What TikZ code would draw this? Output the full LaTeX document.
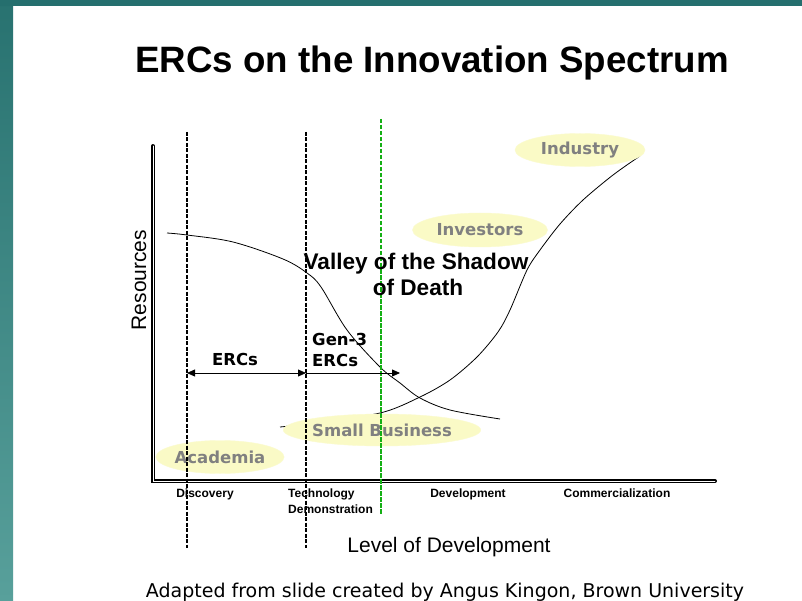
\documentclass[tikz,border=0pt]{standalone}
\usepackage{fontspec}
\setmainfont{Liberation Sans}
\newfontfamily\handfont{DejaVu Sans}
\usetikzlibrary{arrows.meta,shapes.geometric}
\definecolor{bandtop}{RGB}{37,111,110}
\definecolor{stripA}{RGB}{40,114,112}
\definecolor{stripB}{RGB}{88,160,155}
\definecolor{pale}{RGB}{250,250,198}
\definecolor{labelgray}{RGB}{128,128,128}
\definecolor{phasegreen}{RGB}{20,175,20}
\begin{document}
\begin{tikzpicture}[x=1pt,y=-1pt,
  axisline/.style={double=white,double distance=0.9pt,line width=1.5pt,line cap=round},
  phase/.style={dash pattern=on 4pt off 1.5pt,line width=1.1pt},
  actor/.style={ellipse,fill=pale,draw=pale!85!white,inner sep=0pt,
    text=labelgray,font=\handfont\bfseries\fontsize{16.5}{18}\selectfont},
  stagelabel/.style={font=\bfseries\fontsize{12}{13}\selectfont,anchor=base},
  hand/.style={font=\handfont\bfseries\fontsize{16.5}{19}\selectfont,anchor=base},
  span/.style={line width=0.8pt,-{Triangle[length=8pt,width=7pt]}},
  curve/.style={line width=0.8pt}]
\useasboundingbox (0,0) rectangle (802,601);
% slide frame
\fill[white] (0,0) rectangle (802,601);
\shade[top color=stripA,bottom color=stripB] (0,0) rectangle (13,601);
\fill[bandtop] (0,0) rectangle (802,6);

% title
\node[anchor=base,font=\bfseries\fontsize{36.7}{40}\selectfont] (title) at (432,73)
  {ERCs on the Innovation Spectrum};

% axes
\coordinate (ytop) at (153,146);
\coordinate (origin) at (153,481);
\coordinate (xend) at (715,481);
\draw[axisline] (ytop) -- (origin) -- (xend);

% resources falling through the valley
\draw[curve] plot[smooth,tension=0.55] coordinates
  {(167,233) (187,235) (233,242) (283,259) (307,273) (321,287) (347,330) (380,367) (400,383) (420,398) (450,410) (500,419)};
% resources rising towards industry
\draw[curve] plot[smooth,tension=0.5] coordinates
  {(280,427) (306,424) (380,413) (420,397) (450,380) (477,357) (498,332) (510,310) (527,270) (540,250) (560,224) (583,200) (613,175) (640,156)};

% actors
\node[actor,minimum width=130pt,minimum height=33pt] (industry) at (580,150) {Industry};
\node[actor,minimum width=135pt,minimum height=34pt] (investors) at (480,230) {Investors};
\node[actor,minimum width=151pt,minimum height=32pt] (smallbiz) at (382,430) {Small Business};
\node[actor,minimum width=120pt,minimum height=33pt] (academia) at (220,457) {Academia};

% phase boundaries
\coordinate (d1top) at (187,132); \coordinate (d1bot) at (187,548);
\coordinate (d2top) at (306,132); \coordinate (d2bot) at (306,548);
\coordinate (g1top) at (381,119); \coordinate (g1bot) at (381,515);
\draw[phase,black] (d1top) -- (d1bot);
\draw[phase,black] (d2top) -- (d2bot);
\draw[draw=phasegreen,line width=1.2pt,dash pattern=on 4.5pt off 1.5pt] (g1top) -- (g1bot);

% valley caption
\node[anchor=base,font=\bfseries\fontsize{22.6}{24}\selectfont] (valley1) at (416,270) {Valley of the Shadow};
\node[anchor=base,font=\bfseries\fontsize{22.6}{24}\selectfont] (valley2) at (418,295) {of Death};

% ERC reach
\coordinate (spanL) at (187,373);
\coordinate (spanM) at (306,373);
\coordinate (spanR) at (400,373);
\draw[span,{Triangle[length=8pt,width=7pt]}-{Triangle[length=8pt,width=7pt]}] (spanL) -- (spanM);
\draw[span] (spanM) -- (spanR);
\node[hand] (ercs) at (235,365) {ERCs};
\node[hand,anchor=base west,inner sep=0pt] (gen3a) at (312,345) {Gen-3};
\node[hand,anchor=base west,inner sep=0pt] (gen3b) at (312,366) {ERCs};

% stages
\node[stagelabel] (discovery) at (205,497) {Discovery};
\node[stagelabel,anchor=base west,inner sep=0pt] (tech1) at (288,497) {Technology};
\node[stagelabel,anchor=base west,inner sep=0pt] (tech2) at (288,513) {Demonstration};
\node[stagelabel] (develop) at (468,497) {Development};
\node[stagelabel] (commerce) at (617,497) {Commercialization};

% axis titles
\node[anchor=base,rotate=90,font=\fontsize{21}{24}\selectfont] (resources) at (146,280) {Resources};
\node[anchor=base,font=\fontsize{21}{24}\selectfont] (level) at (449,552) {Level of Development};

% credit
\node[anchor=base,font=\handfont\fontsize{19}{22}\selectfont] (credit) at (445,597)
  {Adapted from slide created by Angus Kingon, Brown University};
\end{tikzpicture}
\end{document}
